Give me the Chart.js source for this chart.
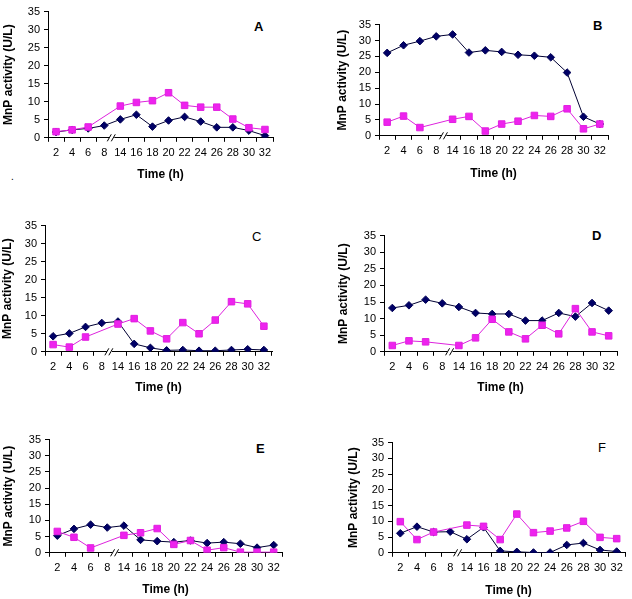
<!DOCTYPE html>
<html>
<head>
<meta charset="utf-8">
<script src="https://cdn.jsdelivr.net/npm/chart.js@4/dist/chart.umd.min.js"></script>
<style>
  html, body { margin: 0; padding: 0; background: #fff; }
  body { width: 632px; height: 599px; position: relative; overflow: hidden; font-family: 'Liberation Sans', Arial, sans-serif; }
  canvas { position: absolute; }
  .lbl { position: absolute; font-size: 13px; font-weight: bold; color: #000; line-height: 1; }
</style>
</head>
<body>
<div class="lbl" style="left:254px;top:20px;">A</div>
<div class="lbl" style="left:593px;top:19px;">B</div>
<div class="lbl" style="left:252px;top:230px;font-weight:normal;">C</div>
<div class="lbl" style="left:592px;top:229px;">D</div>
<div class="lbl" style="left:256px;top:442px;">E</div>
<div class="lbl" style="left:598px;top:441px;font-weight:normal;">F</div>
<div class="lbl" style="left:11px;top:172px;font-weight:normal;font-size:10px;">.</div>
<script>
// ---- data ----
const categories = ['2','4','6','8','14','16','18','20','22','24','26','28','30','32'];
const yTicks = [0, 5, 10, 15, 20, 25, 30, 35];

const navyA = [1.6, 2.2, 2.6, 3.4, 5.1, 6.4, 3.1, 4.8, 5.8, 4.5, 2.9, 2.9, 2.0, 0.6];
const pinkA = [1.7, 2.2, 3.0, null, 8.8, 9.8, 10.3, 12.5, 9.0, 8.5, 8.5, 5.2, 2.8, 2.3];

const navyB = [26.1, 28.5, 29.8, 31.3, 31.9, 26.2, 26.9, 26.4, 25.5, 25.2, 24.7, 19.9, 6.0, 3.7];
const pinkB = [4.3, 6.2, 2.6, null, 5.2, 6.1, 1.5, 3.7, 4.6, 6.4, 6.1, 8.5, 2.2, 3.7];

const navyC = [4.3, 5.1, 6.9, 8.0, 8.4, 2.2, 1.1, 0.4, 0.5, 0.3, 0.3, 0.5, 0.7, 0.5];
const pinkC = [2.0, 1.3, 4.1, null, 7.7, 9.2, 5.8, 3.6, 8.1, 5.0, 8.8, 13.9, 13.3, 7.1];

const navyD = [13.2, 14.0, 15.7, 14.6, 13.5, 11.7, 11.4, 11.4, 9.4, 9.4, 11.7, 10.6, 14.7, 12.4];
const pinkD = [1.9, 3.3, 3.0, null, 1.9, 4.2, 9.8, 6.0, 3.9, 8.0, 5.4, 13.0, 6.0, 4.8];

const navyE = [5.3, 7.4, 8.7, 7.8, 8.4, 4.0, 3.6, 3.3, 3.8, 3.0, 3.3, 2.8, 1.6, 2.4];
const pinkE = [6.6, 4.8, 1.5, null, 5.4, 6.2, 7.5, 2.6, 3.8, 0.8, 1.6, 0.2, 0.2, 0.2];

const navyF = [6.2, 8.3, 6.6, 6.7, 4.3, 8.1, 0.6, 0.3, 0.1, 0.1, 2.5, 3.1, 0.9, 0.4];
const pinkF = [9.9, 4.2, 6.6, null, 8.8, 8.4, 4.2, 12.3, 6.4, 6.9, 7.9, 10.0, 4.9, 4.5];

const xTitle = 'Time (h)';
const yTitle = 'MnP activity (U/L)';
const breakAfterIndex = 3; // axis break between '8' and '14'

// ---- layout (pixel geometry of each panel) ----
const panels = [
  { navy: navyA, pink: pinkA, axisLeft: 48,  top: 9,   zero: 138, right: 273, titleY: 175, yTitleX: 8 },
  { navy: navyB, pink: pinkB, axisLeft: 379, top: 22,  zero: 136, right: 608, titleY: 174, yTitleX: 342 },
  { navy: navyC, pink: pinkC, axisLeft: 45,  top: 223, zero: 352, right: 272, titleY: 388, yTitleX: 7 },
  { navy: navyD, pink: pinkD, axisLeft: 384, top: 233, zero: 352, right: 617, titleY: 388, yTitleX: 343 },
  { navy: navyE, pink: pinkE, axisLeft: 49,  top: 437, zero: 553, right: 282, titleY: 590, yTitleX: 8 },
  { navy: navyF, pink: pinkF, axisLeft: 392, top: 440, zero: 553, right: 625, titleY: 591, yTitleX: 353 }
];

Chart.defaults.font.family = "'Liberation Sans', Arial, sans-serif";
Chart.defaults.color = '#000';

const breakPlugin = {
  id: 'axisBreak',
  afterDraw(chart) {
    const x = chart.scales.x;
    const ctx = chart.ctx;
    const px = (x.getPixelForValue(breakAfterIndex) + x.getPixelForValue(breakAfterIndex + 1)) / 2;
    const y = chart.chartArea.bottom;
    ctx.save();
    ctx.fillStyle = '#fff';
    ctx.fillRect(px - 3, y - 1, 5, 7);
    ctx.strokeStyle = '#000';
    ctx.lineWidth = 1;
    ctx.beginPath();
    ctx.moveTo(px - 5, y + 3.5); ctx.lineTo(px - 1, y - 3.5);
    ctx.moveTo(px - 1, y + 3.5); ctx.lineTo(px + 3, y - 3.5);
    ctx.stroke();
    ctx.restore();
  }
};

panels.forEach(p => {
  const padTop = 8, padRight = 8;
  const canvasLeft = Math.round(p.yTitleX - 7.2);
  const canvasTop = p.top - padTop;
  const yWidth = p.axisLeft - canvasLeft;
  const xHeight = p.titleY + 7.2 - p.zero;
  const width = p.right + padRight - canvasLeft;
  const height = Math.round(p.titleY + 7.2 - canvasTop);
  const cv = document.createElement('canvas');
  cv.width = width; cv.height = height;
  cv.style.left = canvasLeft + 'px';
  cv.style.top = canvasTop + 'px';
  cv.style.width = width + 'px';
  cv.style.height = height + 'px';
  document.body.appendChild(cv);

  new Chart(cv, {
    type: 'line',
    data: {
      labels: categories,
      datasets: [
        {
          data: p.pink,
          borderColor: '#dd22dd',
          backgroundColor: '#ee22ee',
          pointBorderColor: '#e020e0',
          pointBackgroundColor: '#ee22ee',
          borderWidth: 1,
          pointStyle: 'rect',
          pointRadius: 4.6,
          pointBorderWidth: 1,
          spanGaps: true,
          tension: 0
        },
        {
          data: p.navy,
          borderColor: '#000033',
          backgroundColor: '#000066',
          pointBorderColor: '#000055',
          pointBackgroundColor: '#000066',
          borderWidth: 1,
          pointStyle: 'rectRot',
          pointRadius: 3.8,
          pointBorderWidth: 1,
          tension: 0
        }
      ]
    },
    options: {
      responsive: false,
      animation: false,
      devicePixelRatio: 1,
      events: [],
      layout: { padding: { top: padTop, right: padRight, left: 0, bottom: 0 } },
      plugins: { legend: { display: false }, tooltip: { enabled: false } },
      scales: {
        x: {
          type: 'category',
          offset: true,
          grid: { display: true, drawOnChartArea: false, drawTicks: true, tickLength: 4, offset: true, color: '#000' },
          border: { display: true, color: '#000', width: 1 },
          ticks: { font: { size: 11 }, padding: 5, maxRotation: 0, autoSkip: false, color: '#000' },
          title: { display: true, text: xTitle, font: { size: 12, weight: 'bold' }, padding: 0, color: '#000' },
          afterFit: s => { s.height = xHeight; }
        },
        y: {
          min: 0, max: 35,
          afterBuildTicks: s => { s.ticks = yTicks.map(v => ({ value: v })); },
          grid: { display: true, drawOnChartArea: false, drawTicks: true, tickLength: 4, color: '#000' },
          border: { display: true, color: '#000', width: 1 },
          ticks: { font: { size: 11 }, padding: 4, autoSkip: false, color: '#000' },
          title: { display: true, text: yTitle, font: { size: 12, weight: 'bold' }, padding: 0, color: '#000' },
          afterFit: s => { s.width = yWidth; }
        }
      }
    },
    plugins: [breakPlugin]
  });
});
</script>
</body>
</html>
